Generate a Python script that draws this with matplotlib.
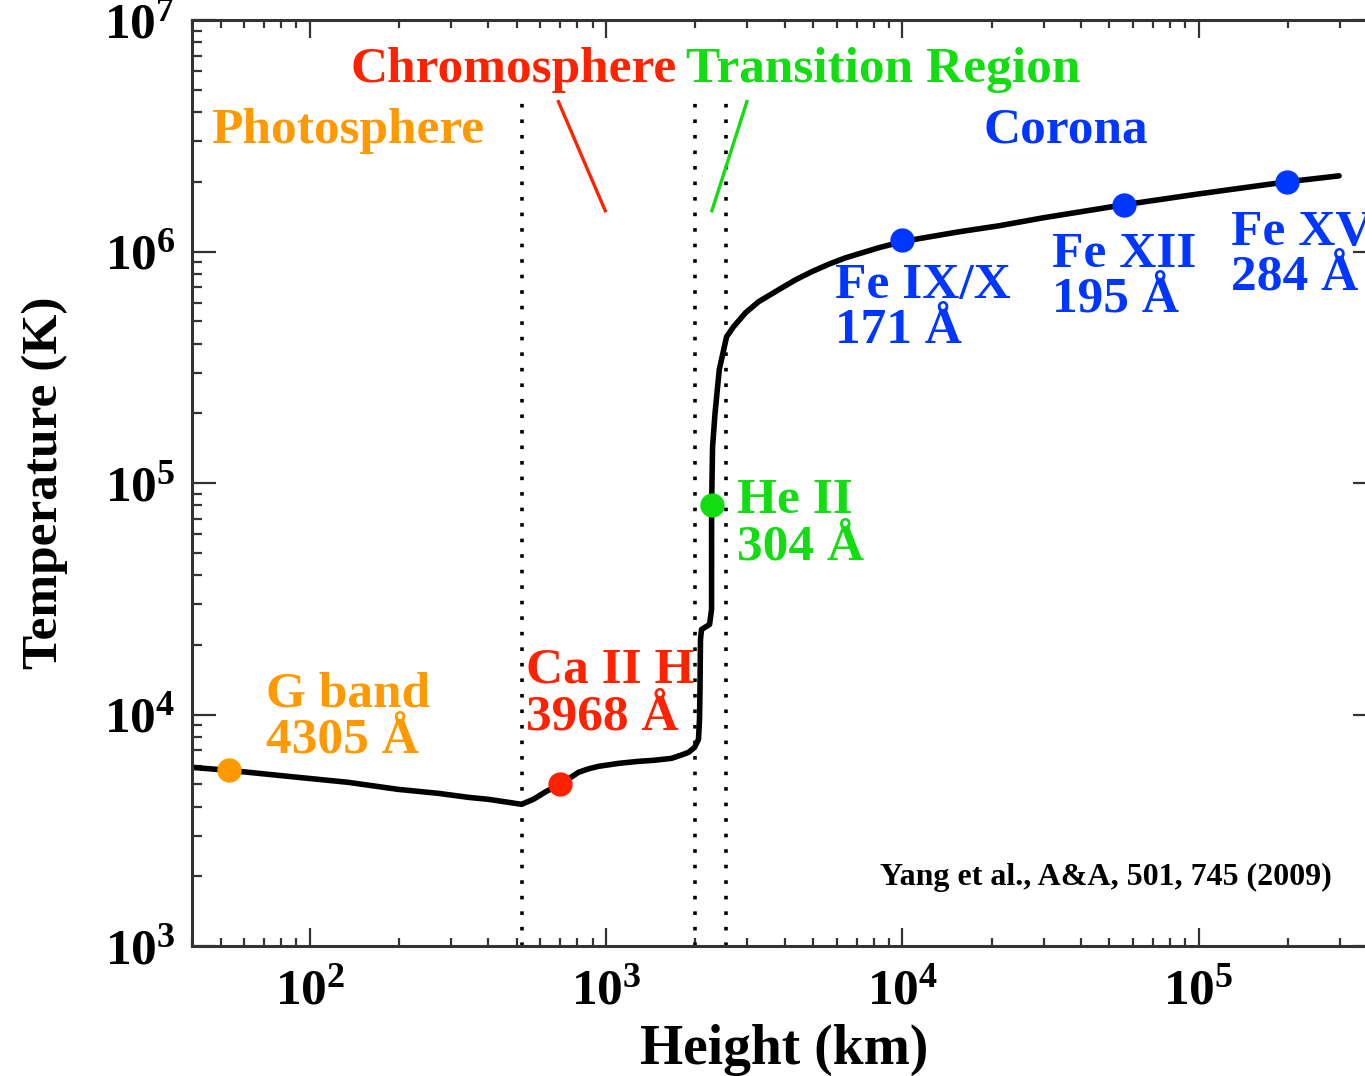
import numpy as np
import matplotlib
matplotlib.use("Agg")
import matplotlib.pyplot as plt
from matplotlib.ticker import FuncFormatter, LogLocator

plt.rcParams["font.family"] = "Liberation Serif"
plt.rcParams["font.weight"] = "bold"
plt.rcParams["axes.labelweight"] = "bold"
plt.rcParams["mathtext.fontset"] = "custom"
plt.rcParams["mathtext.rm"] = "Liberation Serif:bold"
plt.rcParams["mathtext.bf"] = "Liberation Serif:bold"

# temperature profile (height km, temperature K)
height = [40, 53.4, 91.3, 134.7, 198.8, 271.3, 342.5, 400.4, 467.8, 517.8,
          568, 628.5, 700.9, 806, 871.5, 942, 1101, 1286, 1445, 1662, 1782,
          1897, 1988, 2050, 2066, 2074, 2082, 2099, 2234, 2269, 2270, 2287,
          2332, 2409, 2550, 2692, 2955, 3269, 3820, 4361, 4938, 5636, 6432,
          7403, 8317, 10100, 15500, 21150, 29850, 55920, 100200, 198800,
          297900]
temp = [5910, 5737, 5352, 5093, 4748, 4565, 4387, 4301, 4175, 4093, 4301,
        4657, 4993, 5625, 5824, 5970, 6150, 6276, 6339, 6465, 6661, 6862,
        7211, 7809, 9525, 12830, 21090, 23300, 24480, 28420, 79900, 143600,
        201300, 308600, 428200, 473200, 543700, 606600, 683400, 754900,
        817300, 880600, 939300, 992000, 1.038e6, 1.107e6, 1.216e6, 1.291e6,
        1.398e6, 1.591e6, 1.774e6, 2.0e6, 2.122e6]

# formation heights of the observed lines
dot_h = [53.2, 700, 2270, 1.0e4, 5.6e4, 1.99e5]
dot_t = [5750, 5000, 8.0e4, 1.12e6, 1.59e6, 2.0e6]

# region boundaries
bounds = [520, 2000, 2530]

ORANGE, RED, GREEN, BLUE = "#ff9900", "#ff2200", "#11dd11", "#0036ff"
dot_c = [ORANGE, RED, GREEN, BLUE, BLUE, BLUE]

fig = plt.figure(figsize=(13.65, 10.76), dpi=100)
ax = fig.add_axes([192 / 1365, 130 / 1076, 1185 / 1365, 926 / 1076])
ax.set_xscale("log")
ax.set_yscale("log")
ax.set_xlim(40, 4e5)
ax.set_ylim(1e3, 1e7)

for b in bounds:
    ax.plot([b, b], [1e3, 4.9e6], color="black", lw=2.6,
            linestyle=(0, (1, 3.3)))

ax.plot(height, temp, color="black", lw=4.0, solid_capstyle="round",
        solid_joinstyle="round")
for h, t, c in zip(dot_h, dot_t, dot_c):
    ax.plot(h, t, "o", color=c, ms=16.5, mec=c, zorder=5)

# pointer strokes under the region names
ax.plot([690, 993], [4.44e6, 1.5e6], color=RED, lw=2.4)
ax.plot([2986, 2275], [4.44e6, 1.5e6], color=GREEN, lw=2.4)

fs = 37
ax.text(136.8, 5.40e6, "Chromosphere", color=RED, fontsize=fs, va="baseline")
ax.text(1867, 5.40e6, "Transition Region", color=GREEN, fontsize=fs,
        va="baseline")
ax.text(46.4, 2.945e6, "Photosphere", color=ORANGE, fontsize=fs, va="baseline")
ax.text(18820, 2.945e6, "Corona", color=BLUE, fontsize=fs, va="baseline")

labels = [
    (71.2, 10840, 6862, "G band", "4305 Å", ORANGE),
    (538, 13755, 8625, "Ca II H", "3968 Å", RED),
    (2755, 74530, 46700, "He II", "304 Å", GREEN),
    (5906, 631400, 403600, "Fe IX/X", "171 Å", BLUE),
    (31950, 859000, 549300, "Fe XII", "195 Å", BLUE),
    (128600, 1.069e6, 683400, "Fe XV", "284 Å", BLUE),
]
for x, y1, y2, l1, l2, c in labels:
    ax.text(x, y1, l1, color=c, fontsize=fs, va="baseline", clip_on=False)
    ax.text(x, y2, l2, color=c, fontsize=fs, va="baseline", clip_on=False)

ax.text(0.962, 0.066, "Yang et al., A&A, 501, 745 (2009)", fontsize=23,
        ha="right", va="baseline", transform=ax.transAxes)

ax.set_xlabel("Height (km)", fontsize=40, labelpad=7)
ax.set_ylabel("Temperature (K)", fontsize=37, labelpad=26)

fmt = FuncFormatter(lambda v, p: r"$\mathbf{10^{%d}}$" % round(np.log10(v)))
ax.xaxis.set_major_formatter(fmt)
ax.yaxis.set_major_formatter(fmt)
ax.xaxis.set_major_locator(LogLocator(10))
ax.yaxis.set_major_locator(LogLocator(10))
ax.xaxis.set_minor_locator(LogLocator(10, subs=np.arange(2, 10)))
ax.yaxis.set_minor_locator(LogLocator(10, subs=np.arange(2, 10)))

ax.tick_params(axis="both", which="both", direction="in", top=True, right=True,
               width=1.6, color="0.2")
ax.tick_params(axis="x", which="major", length=13, labelsize=37, pad=16)
ax.tick_params(axis="x", which="minor", length=6)
ax.tick_params(axis="y", which="major", length=17, labelsize=37, pad=12)
ax.tick_params(axis="y", which="minor", length=7.5)
for s in ax.spines.values():
    s.set_linewidth(2.2)
    s.set_color("0.2")

fig.savefig("out.png", dpi=100, facecolor="white")
